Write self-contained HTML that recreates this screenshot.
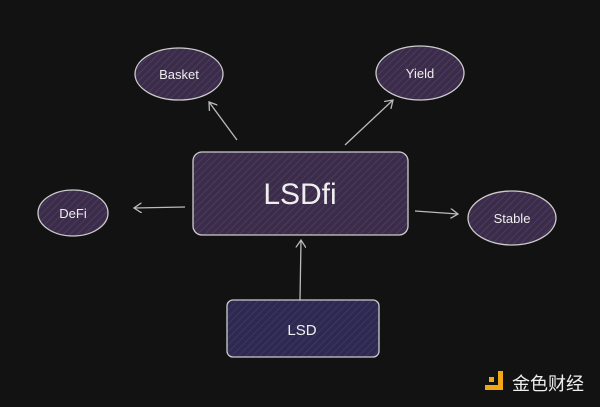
<!DOCTYPE html>
<html><head><style>
html,body{margin:0;padding:0;background:#121212;}
svg{display:block}
text{font-family:"Liberation Sans",sans-serif;fill:#eee}
</style></head><body>
<svg width="600" height="407" viewBox="0 0 600 407" xmlns="http://www.w3.org/2000/svg">
<defs>
<pattern id="h" width="5" height="5" patternUnits="userSpaceOnUse" patternTransform="rotate(45)">
<rect width="5" height="5" fill="#3b2c4a"/>
<line x1="0" y1="0" x2="0" y2="5" stroke="#55436a" stroke-width="1.2"/>
</pattern>
<pattern id="h2" width="5" height="5" patternUnits="userSpaceOnUse" patternTransform="rotate(45)">
<rect width="5" height="5" fill="#2d2950"/>
<line x1="0" y1="0" x2="0" y2="5" stroke="#433e6e" stroke-width="1.2"/>
</pattern>
<marker id="a" markerWidth="8" markerHeight="8" refX="6" refY="4" orient="auto"><path d="M0,0 L6,4 L0,8" fill="none" stroke="#bbb" stroke-width="1"/></marker>
</defs>
<rect width="600" height="407" fill="#121212"/>
<g stroke="#bbb" stroke-width="1.3" fill="none" marker-end="url(#a)">
<line x1="237" y1="140" x2="209" y2="102"/>
<line x1="345" y1="145" x2="393" y2="100"/>
<line x1="185" y1="207" x2="134" y2="208"/>
<line x1="415" y1="211" x2="458" y2="214"/>
<line x1="300" y1="300" x2="301" y2="240"/>
</g>
<rect x="193" y="152" width="215" height="83" rx="9" fill="url(#h)" stroke="#ccc" stroke-width="1.3"/>
<text x="300" y="204" font-size="30" text-anchor="middle">LSDfi</text>
<rect x="227" y="300" width="152" height="57" rx="6" fill="url(#h2)" stroke="#ccc" stroke-width="1.3"/>
<text x="302" y="335" font-size="15" text-anchor="middle">LSD</text>
<ellipse cx="179" cy="74" rx="44" ry="26" fill="url(#h)" stroke="#ccc" stroke-width="1.3"/>
<text x="179" y="79" font-size="13" text-anchor="middle">Basket</text>
<ellipse cx="420" cy="73" rx="44" ry="27" fill="url(#h)" stroke="#ccc" stroke-width="1.3"/>
<text x="420" y="78" font-size="13" text-anchor="middle">Yield</text>
<ellipse cx="73" cy="213" rx="35" ry="23" fill="url(#h)" stroke="#ccc" stroke-width="1.3"/>
<text x="73" y="218" font-size="13" text-anchor="middle">DeFi</text>
<ellipse cx="512" cy="218" rx="44" ry="27" fill="url(#h)" stroke="#ccc" stroke-width="1.3"/>
<text x="512" y="223" font-size="13" text-anchor="middle">Stable</text>
<g fill="#f0a818">
<rect x="489" y="377" width="5" height="5"/>
<rect x="498" y="371" width="5" height="18"/>
<rect x="485" y="385" width="18" height="5"/>
</g>
<text x="512" y="390" font-size="18" style="font-family:'Liberation Sans','Noto Sans CJK SC',sans-serif" fill="#eee">金色财经</text>
</svg>
</body></html>
